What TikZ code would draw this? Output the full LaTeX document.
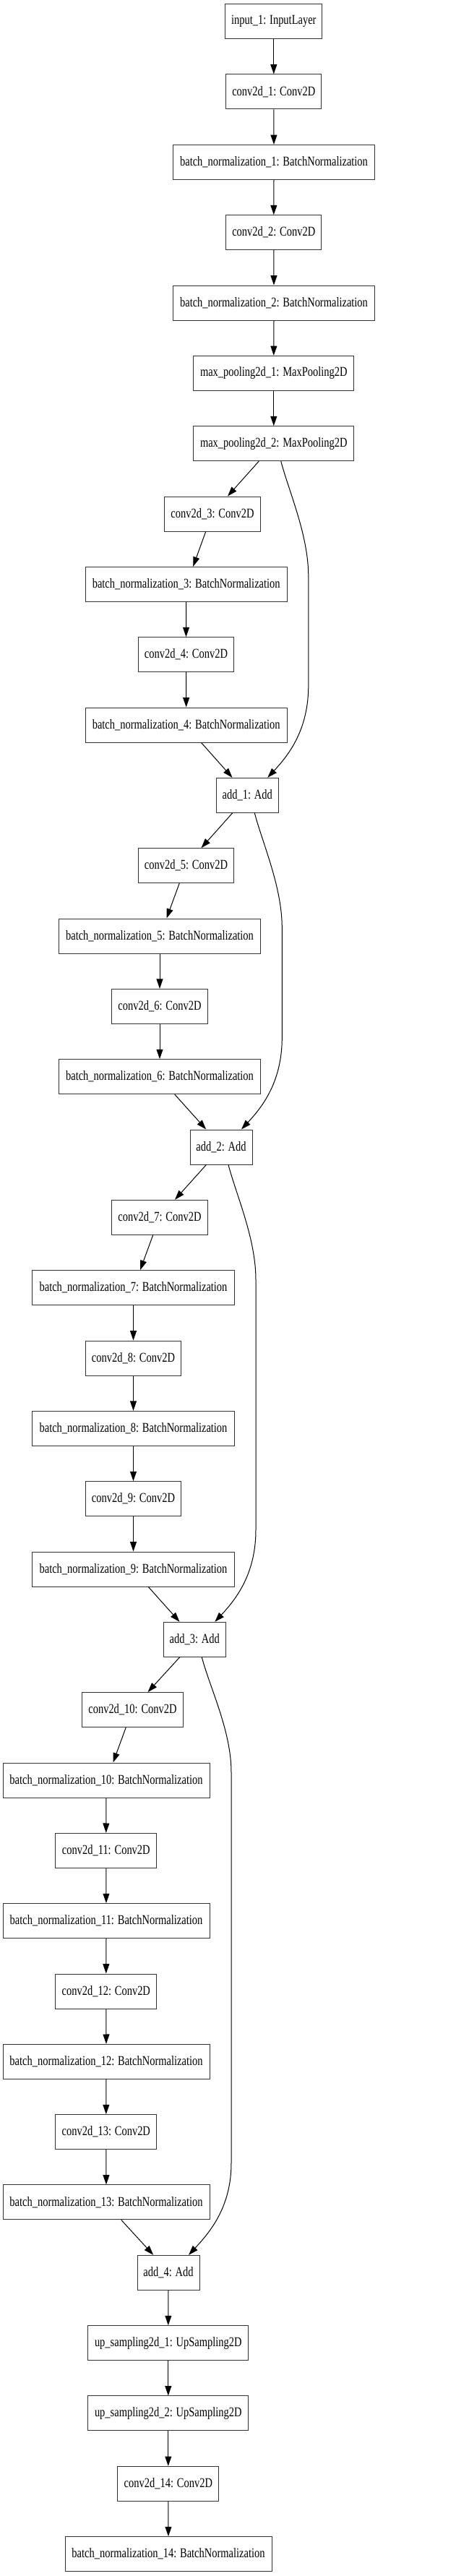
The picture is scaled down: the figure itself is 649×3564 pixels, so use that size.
\documentclass[tikz,border=0pt]{standalone}
\usepackage{fontspec}
\usepackage{graphicx}
\setmainfont{Liberation Serif}
\usetikzlibrary{arrows.meta,calc}
\newcommand{\lbl}[1]{\scalebox{0.776}[1]{#1}}
\tikzset{
  layer/.style={draw=black!80, line width=0.75pt, rectangle, minimum height=36pt, inner sep=0pt,
    font=\fontsize{14pt}{16pt}\selectfont, fill=white},
  wIn/.style={layer, minimum width=100.7pt},
  wCa/.style={layer, minimum width=99.2pt},
  wCb/.style={layer, minimum width=104.8pt},
  wBa/.style={layer, minimum width=209.5pt},
  wBb/.style={layer, minimum width=214.5pt},
  wMp/.style={layer, minimum width=166.7pt},
  wAdd/.style={layer, minimum width=64.5pt},
  edge/.style={line width=0.75pt, black, -{Triangle[length=10pt,width=6.7pt]}}
}
\newcommand{\skipconn}[3]{%
  \coordinate (#1-v1) at ($(#1.south)+(#3,159)$);
  \coordinate (#1-t2) at ($(#2.north)+(0,-127)$);
  \coordinate (#1-t3) at ($(#2.north)+(0,-67)$);
  \coordinate (#1-v2) at (#1-v1 |- #1-t2);
  \coordinate (#1-c3) at (#1-v1 |- #1-t3);
  \draw[edge] ($(#1.south)+(10,0)$) .. controls ($(#1.south)+(21,42)$) and ($(#1.south)+(#3,102)$) .. (#1-v1)
    -- (#1-v2) .. controls (#1-c3) and ($(#2.north)+(58,-32)$) .. ($(#2.north)+(28,0)$);
}
\begin{document}
\begin{tikzpicture}[x=0.75pt, y=-0.75pt]
\useasboundingbox (0,0) rectangle (649,3564);
\node[wIn] (in1) at (378.8,29.7) {\lbl{input\_1: InputLayer}};
\node[wCa] (c1) at (378.8,127.0) {\lbl{conv2d\_1: Conv2D}};
\node[wBa] (b1) at (379,224.4) {\lbl{batch\_normalization\_1: BatchNormalization}};
\node[wCa] (c2) at (378.8,321.7) {\lbl{conv2d\_2: Conv2D}};
\node[wBa] (b2) at (379,419.0) {\lbl{batch\_normalization\_2: BatchNormalization}};
\node[wMp] (mp1) at (378.8,516.4) {\lbl{max\_pooling2d\_1: MaxPooling2D}};
\node[wMp] (mp2) at (378.8,613.7) {\lbl{max\_pooling2d\_2: MaxPooling2D}};
\node[wCa] (c3) at (294,711.0) {\lbl{conv2d\_3: Conv2D}};
\node[wBa] (b3) at (257.7,808.3) {\lbl{batch\_normalization\_3: BatchNormalization}};
\node[wCa] (c4) at (257.5,905.7) {\lbl{conv2d\_4: Conv2D}};
\node[wBa] (b4) at (257.7,1003.0) {\lbl{batch\_normalization\_4: BatchNormalization}};
\node[wAdd] (a1) at (342.3,1100.3) {\lbl{add\_1: Add}};
\node[wCa] (c5) at (257.5,1197.7) {\lbl{conv2d\_5: Conv2D}};
\node[wBa] (b5) at (221,1295.0) {\lbl{batch\_normalization\_5: BatchNormalization}};
\node[wCa] (c6) at (221,1392.3) {\lbl{conv2d\_6: Conv2D}};
\node[wBa] (b6) at (221,1489.7) {\lbl{batch\_normalization\_6: BatchNormalization}};
\node[wAdd] (a2) at (306,1587.0) {\lbl{add\_2: Add}};
\node[wCa] (c7) at (221,1684.3) {\lbl{conv2d\_7: Conv2D}};
\node[wBa] (b7) at (184.5,1781.6) {\lbl{batch\_normalization\_7: BatchNormalization}};
\node[wCa] (c8) at (184.5,1879.0) {\lbl{conv2d\_8: Conv2D}};
\node[wBa] (b8) at (184.5,1976.3) {\lbl{batch\_normalization\_8: BatchNormalization}};
\node[wCa] (c9) at (184.5,2073.6) {\lbl{conv2d\_9: Conv2D}};
\node[wBa] (b9) at (184.5,2171.0) {\lbl{batch\_normalization\_9: BatchNormalization}};
\node[wAdd] (a3) at (269.3,2268.3) {\lbl{add\_3: Add}};
\node[wCb] (c10) at (183.5,2365.6) {\lbl{conv2d\_10: Conv2D}};
\node[wBb] (b10) at (147,2463.0) {\lbl{batch\_normalization\_10: BatchNormalization}};
\node[wCb] (c11) at (146.8,2560.3) {\lbl{conv2d\_11: Conv2D}};
\node[wBb] (b11) at (147,2657.6) {\lbl{batch\_normalization\_11: BatchNormalization}};
\node[wCb] (c12) at (146.8,2755.0) {\lbl{conv2d\_12: Conv2D}};
\node[wBb] (b12) at (147,2852.3) {\lbl{batch\_normalization\_12: BatchNormalization}};
\node[wCb] (c13) at (146.8,2949.6) {\lbl{conv2d\_13: Conv2D}};
\node[wBb] (b13) at (147,3046.9) {\lbl{batch\_normalization\_13: BatchNormalization}};
\node[wAdd] (a4) at (233,3144.3) {\lbl{add\_4: Add}};
\node[wMp] (u1) at (232.8,3241.6) {\lbl{up\_sampling2d\_1: UpSampling2D}};
\node[wMp] (u2) at (232.8,3338.9) {\lbl{up\_sampling2d\_2: UpSampling2D}};
\node[wCb] (c14) at (232.8,3436.3) {\lbl{conv2d\_14: Conv2D}};
\node[wBb] (b14) at (233,3533.6) {\lbl{batch\_normalization\_14: BatchNormalization}};
% straight edges
\foreach \s/\t in {in1/c1, c1/b1, b1/c2, c2/b2, b2/mp1, mp1/mp2, b3/c4, c4/b4,
  b5/c6, c6/b6, b7/c8, c8/b8, b8/c9, c9/b9, b10/c11, c11/b11, b11/c12, c12/b12, b12/c13, c13/b13,
  a4/u1, u1/u2, u2/c14, c14/b14}
  \draw[edge] (\s.south) -- (\t.north);
% diagonal edges: add/pool -> conv
\foreach \s/\t in {mp2/c3, a1/c5, a2/c7, a3/c10}
  \draw[edge] ($(\s.south)+(-20.6,0)$) -- ($(\t.north)+(21,0)$);
% conv -> bn
\foreach \s/\t in {c3/b3, c5/b5, c7/b7, c10/b10}
  \draw[edge] ($(\s.south)+(-9.3,0)$) -- ($(\t.north)+(9.5,0)$);
% bn -> add
\foreach \s/\t in {b4/a1, b6/a2, b9/a3, b13/a4}
  \draw[edge] ($(\s.south)+(20.8,0)$) -- ($(\t.north)+(-20.8,0)$);
% skip connections
\skipconn{mp2}{a1}{48}
\skipconn{a1}{a2}{48}
\skipconn{a2}{a3}{48}
\skipconn{a3}{a4}{50.7}
\end{tikzpicture}
\end{document}
